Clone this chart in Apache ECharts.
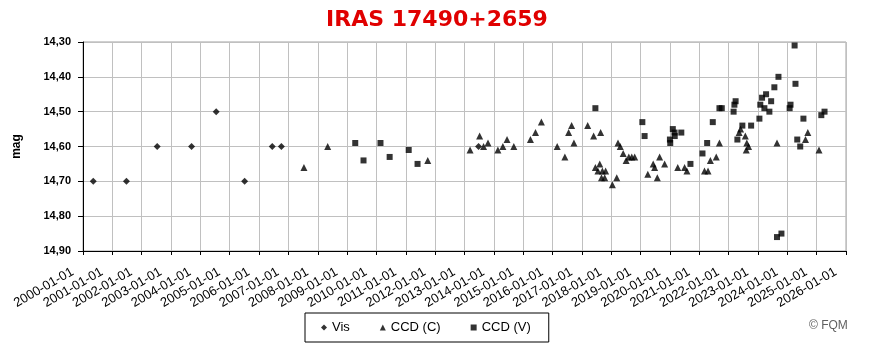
<!DOCTYPE html>
<html>
<head>
<meta charset="utf-8">
<script src="https://cdn.jsdelivr.net/npm/echarts@6/dist/echarts.min.js"></script>
<style>html,body{margin:0;padding:0;background:#fff;}#c{width:874px;height:351px;}</style>
</head>
<body>
<div id="c"></div>
<script>
const titleText = 'IRAS 17490+2659';
const yAxisName = 'mag';
const seriesNames = ['Vis', 'CCD (C)', 'CCD (V)'];
const xTickYears = { min: 2000, max: 2026, step: 1 };
const yTicks = { min: 14.3, max: 14.9, step: 0.1 };

const visDates = ['2000-05-08','2001-06-25','2002-07-13','2003-09-13','2004-07-16','2005-07-05','2006-06-14','2006-10-05','2013-06-25'];
const visMags  = [14.70,14.70,14.60,14.60,14.50,14.70,14.60,14.60,14.60];

const ccdCDates = ['2007-07-13','2008-05-04','2011-10-01','2013-03-11','2013-07-08','2013-08-26','2013-10-20','2014-02-20','2014-04-23','2014-06-14','2014-09-06','2015-04-01','2015-06-03','2015-08-15','2016-02-28','2016-06-03','2016-07-20','2016-08-26','2016-09-24','2017-03-14','2017-05-27','2017-08-22','2017-06-18','2017-08-11','2017-07-20','2017-09-13','2017-10-23','2017-09-02','2017-10-12','2018-01-15','2018-03-11','2018-03-26','2018-04-23','2018-05-30','2018-07-05','2018-08-08','2018-09-13','2018-10-20','2019-04-01','2019-06-07','2019-06-25','2019-07-28','2019-08-26','2019-10-27','2020-04-08','2020-07-02','2020-07-31','2021-03-07','2021-04-20','2021-05-19','2021-07-31','2021-09-09','2022-05-12','2022-05-30','2022-07-28','2022-08-08','2022-08-15','2022-09-06','2023-08-26','2024-08-15','2024-09-13','2025-01-30'];
const ccdCMags  = [14.66,14.60,14.64,14.61,14.57,14.60,14.59,14.61,14.60,14.58,14.60,14.58,14.56,14.53,14.60,14.63,14.56,14.54,14.59,14.54,14.57,14.56,14.66,14.65,14.67,14.67,14.67,14.69,14.69,14.71,14.69,14.59,14.60,14.62,14.64,14.63,14.63,14.63,14.68,14.65,14.66,14.69,14.63,14.65,14.66,14.66,14.67,14.67,14.67,14.64,14.63,14.59,14.56,14.55,14.57,14.61,14.59,14.60,14.59,14.58,14.56,14.61];

const ccdVDates = ['2009-04-12','2009-07-24','2010-02-20','2010-06-14','2011-02-06','2011-05-27','2017-06-18','2019-01-23','2019-02-20','2020-01-01','2020-01-05','2020-02-06','2020-02-28','2020-03-01','2020-05-22','2020-09-13','2021-02-10','2021-04-09','2021-06-18','2021-09-09','2021-10-08','2022-03-04','2022-03-14','2022-03-29','2022-04-20','2022-06-21','2022-10-08','2023-01-19','2023-01-30','2023-02-21','2023-03-22','2023-04-12','2023-05-23','2023-06-14','2023-07-24','2023-08-26','2023-09-13','2023-10-20','2024-01-30','2024-02-10','2024-04-01','2024-04-12','2024-05-04','2024-06-10','2024-07-20','2025-02-28','2025-04-09'];
const ccdVMags  = [14.59,14.64,14.59,14.63,14.61,14.65,14.49,14.53,14.57,14.58,14.59,14.55,14.56,14.57,14.56,14.65,14.62,14.59,14.53,14.49,14.49,14.50,14.48,14.47,14.58,14.54,14.54,14.52,14.48,14.46,14.49,14.45,14.50,14.47,14.43,14.86,14.40,14.85,14.49,14.48,14.31,14.42,14.58,14.60,14.52,14.51,14.50];

function decYear(s) {
  const [y, m, d] = s.split('-').map(Number);
  const t = Date.UTC(y, m - 1, d), a = Date.UTC(y, 0, 1), b = Date.UTC(y + 1, 0, 1);
  return y + (t - a) / (b - a);
}
function pts(dates, mags) { return dates.map((d, i) => [decYear(d), mags[i]]); }

const chart = echarts.init(document.getElementById('c'), null, { renderer: 'canvas' });
const FONT = '"Liberation Sans", Arial, sans-serif';
chart.setOption({
  backgroundColor: '#ffffff',
  animation: false,
  graphic: [
    { type: 'text', left: 'center', top: 9, style: { text: titleText, fill: '#e00000', font: 'bold 22px "DejaVu Sans", sans-serif' } },
    { type: 'text', left: 809, top: 320, style: { text: '\u00a9 FQM', fill: '#606060', font: '12px ' + FONT } }
  ],
  legend: {
    left: 305, top: 313,
    orient: 'horizontal',
    padding: [8, 18, 8, 16],
    borderColor: '#000', borderWidth: 1,
    itemGap: 30, itemWidth: 6, itemHeight: 6,
    textStyle: { fontFamily: FONT, fontSize: 13, color: '#000' },
    data: [
      { name: seriesNames[0], icon: 'diamond' },
      { name: seriesNames[1], icon: 'triangle' },
      { name: seriesNames[2], icon: 'rect' }
    ]
  },
  grid: { left: 83, right: 28, top: 42, bottom: 100, show: true, borderColor: '#a0a0a0', borderWidth: 1, backgroundColor: '#fff' },
  xAxis: {
    type: 'value', min: xTickYears.min, max: xTickYears.max, interval: xTickYears.step,
    axisLine: { show: true, onZero: false, lineStyle: { color: '#000', width: 1 } },
    axisTick: { show: true, length: 4, lineStyle: { color: '#000' } },
    splitLine: { show: true, lineStyle: { color: '#c0c0c0', width: 1 } },
    axisLabel: { rotate: 30, margin: 14, padding: [0, 12, 0, 0], fontFamily: FONT, fontSize: 13, color: '#000',
      formatter: v => Math.round(v) + '-01-01' }
  },
  yAxis: {
    type: 'value', inverse: true, min: yTicks.min, max: yTicks.max, interval: yTicks.step,
    name: yAxisName, nameLocation: 'middle', nameRotate: 90, nameGap: 60,
    nameTextStyle: { fontFamily: FONT, fontSize: 12, fontWeight: 'bold', color: '#000' },
    axisLine: { show: true, onZero: false, lineStyle: { color: '#000', width: 1 } },
    axisTick: { show: true, length: 5, lineStyle: { color: '#000' } },
    splitLine: { show: true, lineStyle: { color: '#c0c0c0', width: 1 } },
    axisLabel: { margin: 12, fontFamily: FONT, fontSize: 11, fontWeight: 'bold', color: '#000',
      formatter: v => v.toFixed(2).replace('.', ',') }
  },
  series: [
    { name: seriesNames[0], type: 'scatter', symbol: 'diamond', symbolSize: 7, itemStyle: { color: '#000' }, data: pts(visDates, visMags) },
    { name: seriesNames[1], type: 'scatter', symbol: 'triangle', symbolSize: 7, itemStyle: { color: '#000' }, data: pts(ccdCDates, ccdCMags) },
    { name: seriesNames[2], type: 'scatter', symbol: 'rect', symbolSize: 6, itemStyle: { color: '#000' }, data: pts(ccdVDates, ccdVMags) }
  ]
});
</script>
</body>
</html>
